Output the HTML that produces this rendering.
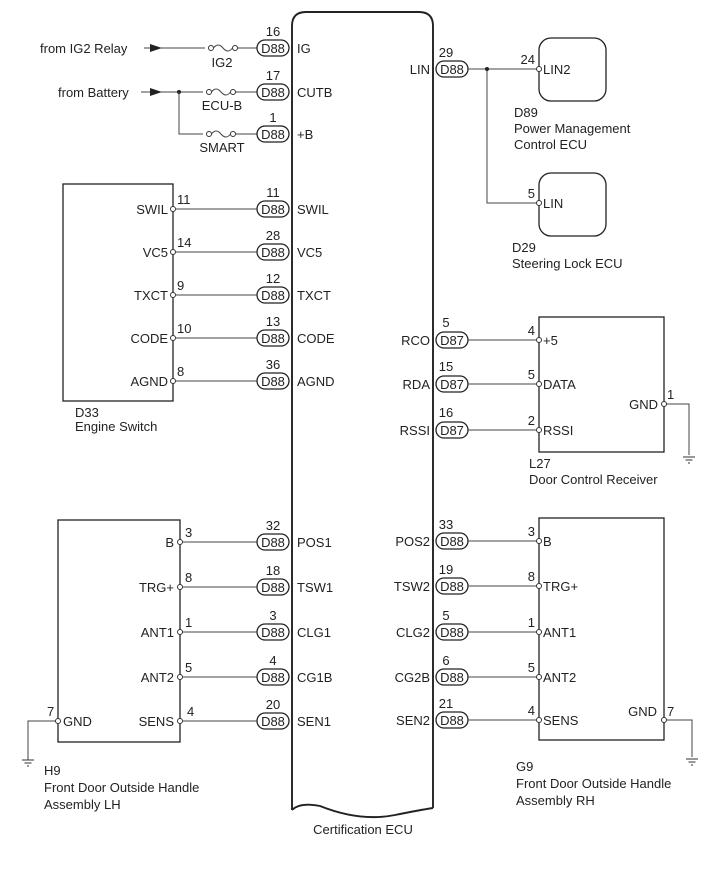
<!DOCTYPE html>
<html><head><meta charset="utf-8"><style>
html,body{margin:0;padding:0;background:#fff}
svg{display:block}
text{font-family:"Liberation Sans",Arial,sans-serif;font-size:13px;fill:#222}
.w{stroke:#444;stroke-width:1;fill:none}
.b{stroke:#222;stroke-width:1.9;fill:none}
.p{fill:#fff;stroke:#222;stroke-width:1.3}
.c{fill:#fff;stroke:#333;stroke-width:1}
</style></head><body>
<svg width="713" height="882" viewBox="0 0 713 882" xmlns="http://www.w3.org/2000/svg">
<defs>
<g id="pill"><rect x="0" y="-8" width="32" height="16" rx="8" class="p"/></g>
<g id="gnd"><line x1="-6" y1="0" x2="6" y2="0" stroke="#333"/><line x1="-3.5" y1="3" x2="3.5" y2="3" stroke="#333"/><line x1="-1" y1="6" x2="1" y2="6" stroke="#333"/></g>
</defs>
<!-- ECU body -->
<path class="b" d="M292 810 L292 26 Q292 12 306 12 L419 12 Q433 12 433 26 L433 808"/>
<path class="b" d="M292 810 Q300 802 320 806 Q360 822 395 815 Q420 810 433 808"/>
<text x="363" y="834" text-anchor="middle">Certification ECU</text>

<!-- top left -->
<text x="40" y="53">from IG2 Relay</text>
<line class="w" x1="144" y1="48" x2="257" y2="48"/><path d="M150 44 L162 48 L150 52Z" fill="#222"/>
<text x="58" y="97">from Battery</text>
<line class="w" x1="141" y1="92" x2="257" y2="92"/><path d="M150 88 L162 92 L150 96Z" fill="#222"/>
<circle cx="179" cy="92" r="2" fill="#222"/>
<path class="w" d="M179 92 V134 H257"/>
<g fill="#fff">
<rect x="205" y="40" width="30" height="14" fill="#fff"/><rect x="203" y="84" width="30" height="14" fill="#fff"/><rect x="203" y="126" width="30" height="14" fill="#fff"/>
</g>
<g class="w"><circle cx="211" cy="48" r="2.5" class="c"/><circle cx="235" cy="48" r="2.5" class="c"/><path class="w" d="M213.5 48 Q218 42 223 48 Q228 54 232.5 48"/>
<circle cx="209" cy="92" r="2.5" class="c"/><circle cx="233" cy="92" r="2.5" class="c"/><path class="w" d="M211.5 92 Q216 86 221 92 Q226 98 230.5 92"/>
<circle cx="209" cy="134" r="2.5" class="c"/><circle cx="233" cy="134" r="2.5" class="c"/><path class="w" d="M211.5 134 Q216 128 221 134 Q226 140 230.5 134"/></g>
<text x="222" y="67" text-anchor="middle">IG2</text>
<text x="222" y="110" text-anchor="middle">ECU-B</text>
<text x="222" y="152" text-anchor="middle">SMART</text>

<!-- left pills -->
<g>
<use href="#pill" x="257" y="48"/><use href="#pill" x="257" y="92"/><use href="#pill" x="257" y="134"/>
<use href="#pill" x="257" y="209"/><use href="#pill" x="257" y="252"/><use href="#pill" x="257" y="295"/><use href="#pill" x="257" y="338"/><use href="#pill" x="257" y="381"/>
<use href="#pill" x="257" y="542"/><use href="#pill" x="257" y="587"/><use href="#pill" x="257" y="632"/><use href="#pill" x="257" y="677"/><use href="#pill" x="257" y="721"/>
</g>
<g text-anchor="middle">
<text x="273" y="53">D88</text><text x="273" y="97">D88</text><text x="273" y="139">D88</text>
<text x="273" y="214">D88</text><text x="273" y="257">D88</text><text x="273" y="300">D88</text><text x="273" y="343">D88</text><text x="273" y="386">D88</text>
<text x="273" y="547">D88</text><text x="273" y="592">D88</text><text x="273" y="637">D88</text><text x="273" y="682">D88</text><text x="273" y="726">D88</text>
<text x="273" y="36">16</text><text x="273" y="80">17</text><text x="273" y="122">1</text>
<text x="273" y="197">11</text><text x="273" y="240">28</text><text x="273" y="283">12</text><text x="273" y="326">13</text><text x="273" y="369">36</text>
<text x="273" y="530">32</text><text x="273" y="575">18</text><text x="273" y="620">3</text><text x="273" y="665">4</text><text x="273" y="709">20</text>
</g>
<g>
<text x="297" y="53">IG</text><text x="297" y="97">CUTB</text><text x="297" y="139">+B</text>
<text x="297" y="214">SWIL</text><text x="297" y="257">VC5</text><text x="297" y="300">TXCT</text><text x="297" y="343">CODE</text><text x="297" y="386">AGND</text>
<text x="297" y="547">POS1</text><text x="297" y="592">TSW1</text><text x="297" y="637">CLG1</text><text x="297" y="682">CG1B</text><text x="297" y="726">SEN1</text>
</g>

<!-- Engine switch -->
<rect x="63" y="184" width="110" height="217" class="b" style="stroke-width:1.3"/>
<g class="w">
<line x1="176" y1="209" x2="257" y2="209"/><line x1="176" y1="252" x2="257" y2="252"/><line x1="176" y1="295" x2="257" y2="295"/><line x1="176" y1="338" x2="257" y2="338"/><line x1="176" y1="381" x2="257" y2="381"/>
</g>
<g><circle cx="173" cy="209" r="2.5" class="c"/><circle cx="173" cy="252" r="2.5" class="c"/><circle cx="173" cy="295" r="2.5" class="c"/><circle cx="173" cy="338" r="2.5" class="c"/><circle cx="173" cy="381" r="2.5" class="c"/></g>
<g text-anchor="end"><text x="168" y="214">SWIL</text><text x="168" y="257">VC5</text><text x="168" y="300">TXCT</text><text x="168" y="343">CODE</text><text x="168" y="386">AGND</text></g>
<text x="177" y="204">11</text><text x="177" y="247">14</text><text x="177" y="290">9</text><text x="177" y="333">10</text><text x="177" y="376">8</text>
<text x="75" y="417">D33</text><text x="75" y="431">Engine Switch</text>

<!-- H9 -->
<rect x="58" y="520" width="122" height="222" class="b" style="stroke-width:1.3"/>
<g class="w">
<line x1="183" y1="542" x2="257" y2="542"/><line x1="183" y1="587" x2="257" y2="587"/><line x1="183" y1="632" x2="257" y2="632"/><line x1="183" y1="677" x2="257" y2="677"/><line x1="183" y1="721" x2="257" y2="721"/>
<path d="M55.5 721 H28 V760"/>
</g>
<g><circle cx="180" cy="542" r="2.5" class="c"/><circle cx="180" cy="587" r="2.5" class="c"/><circle cx="180" cy="632" r="2.5" class="c"/><circle cx="180" cy="677" r="2.5" class="c"/><circle cx="180" cy="721" r="2.5" class="c"/><circle cx="58" cy="721" r="2.5" class="c"/></g>
<use href="#gnd" x="28" y="760"/>
<g text-anchor="end"><text x="174" y="547">B</text><text x="174" y="592">TRG+</text><text x="174" y="637">ANT1</text><text x="174" y="682">ANT2</text><text x="174" y="726">SENS</text></g>
<text x="185" y="537">3</text><text x="185" y="582">8</text><text x="185" y="627">1</text><text x="185" y="672">5</text><text x="187" y="716">4</text>
<text x="47" y="716">7</text><text x="63" y="726">GND</text>
<text x="44" y="775">H9</text><text x="44" y="792">Front Door Outside Handle</text><text x="44" y="809">Assembly LH</text>

<!-- right pills -->
<g>
<use href="#pill" x="436" y="69"/>
<use href="#pill" x="436" y="340"/><use href="#pill" x="436" y="384"/><use href="#pill" x="436" y="430"/>
<use href="#pill" x="436" y="541"/><use href="#pill" x="436" y="586"/><use href="#pill" x="436" y="632"/><use href="#pill" x="436" y="677"/><use href="#pill" x="436" y="720"/>
</g>
<g text-anchor="middle">
<text x="452" y="74">D88</text>
<text x="452" y="345">D87</text><text x="452" y="389">D87</text><text x="452" y="435">D87</text>
<text x="452" y="546">D88</text><text x="452" y="591">D88</text><text x="452" y="637">D88</text><text x="452" y="682">D88</text><text x="452" y="725">D88</text>
<text x="446" y="57">29</text>
<text x="446" y="327">5</text><text x="446" y="371">15</text><text x="446" y="417">16</text>
<text x="446" y="529">33</text><text x="446" y="574">19</text><text x="446" y="620">5</text><text x="446" y="665">6</text><text x="446" y="708">21</text>
</g>
<g text-anchor="end">
<text x="430" y="74">LIN</text>
<text x="430" y="345">RCO</text><text x="430" y="389">RDA</text><text x="430" y="435">RSSI</text>
<text x="430" y="546">POS2</text><text x="430" y="591">TSW2</text><text x="430" y="637">CLG2</text><text x="430" y="682">CG2B</text><text x="430" y="725">SEN2</text>
</g>

<!-- LIN -->
<g class="w">
<line x1="468" y1="69" x2="536.5" y2="69"/>
<path d="M487 69 V203 H536.5"/>
</g>
<circle cx="487" cy="69" r="2" fill="#222"/>
<rect x="539" y="38" width="67" height="63" rx="12" class="b" style="stroke-width:1.3"/>
<rect x="539" y="173" width="67" height="63" rx="12" class="b" style="stroke-width:1.3"/>
<circle cx="539" cy="69" r="2.5" class="c"/><circle cx="539" cy="203" r="2.5" class="c"/>
<text x="543" y="74">LIN2</text><text x="543" y="208">LIN</text>
<text x="535" y="64" text-anchor="end">24</text><text x="535" y="198" text-anchor="end">5</text>
<text x="514" y="117">D89</text><text x="514" y="133">Power Management</text><text x="514" y="149">Control ECU</text>
<text x="512" y="252">D29</text><text x="512" y="268">Steering Lock ECU</text>

<!-- L27 -->
<rect x="539" y="317" width="125" height="135" class="b" style="stroke-width:1.3"/>
<g class="w">
<line x1="468" y1="340" x2="536.5" y2="340"/><line x1="468" y1="384" x2="536.5" y2="384"/><line x1="468" y1="430" x2="536.5" y2="430"/>
<path d="M666.5 404 H689 V455"/>
</g>
<circle cx="539" cy="340" r="2.5" class="c"/><circle cx="539" cy="384" r="2.5" class="c"/><circle cx="539" cy="430" r="2.5" class="c"/><circle cx="664" cy="404" r="2.5" class="c"/>
<use href="#gnd" x="689" y="457"/>
<text x="543" y="345">+5</text><text x="543" y="389">DATA</text><text x="543" y="435">RSSI</text>
<text x="535" y="335" text-anchor="end">4</text><text x="535" y="379" text-anchor="end">5</text><text x="535" y="425" text-anchor="end">2</text>
<text x="658" y="409" text-anchor="end">GND</text><text x="667" y="399">1</text>
<text x="529" y="468">L27</text><text x="529" y="484">Door Control Receiver</text>

<!-- G9 -->
<rect x="539" y="518" width="125" height="222" class="b" style="stroke-width:1.3"/>
<g class="w">
<line x1="468" y1="541" x2="536.5" y2="541"/><line x1="468" y1="586" x2="536.5" y2="586"/><line x1="468" y1="632" x2="536.5" y2="632"/><line x1="468" y1="677" x2="536.5" y2="677"/><line x1="468" y1="720" x2="536.5" y2="720"/>
<path d="M666.5 720 H692 V757"/>
</g>
<circle cx="539" cy="541" r="2.5" class="c"/><circle cx="539" cy="586" r="2.5" class="c"/><circle cx="539" cy="632" r="2.5" class="c"/><circle cx="539" cy="677" r="2.5" class="c"/><circle cx="539" cy="720" r="2.5" class="c"/><circle cx="664" cy="720" r="2.5" class="c"/>
<use href="#gnd" x="692" y="759"/>
<text x="543" y="546">B</text><text x="543" y="591">TRG+</text><text x="543" y="637">ANT1</text><text x="543" y="682">ANT2</text><text x="543" y="725">SENS</text>
<g text-anchor="end"><text x="535" y="536">3</text><text x="535" y="581">8</text><text x="535" y="627">1</text><text x="535" y="672">5</text><text x="535" y="715">4</text></g>
<text x="657" y="716" text-anchor="end">GND</text><text x="667" y="716">7</text>
<text x="516" y="771">G9</text><text x="516" y="788">Front Door Outside Handle</text><text x="516" y="805">Assembly RH</text>
</svg>
</body></html>
